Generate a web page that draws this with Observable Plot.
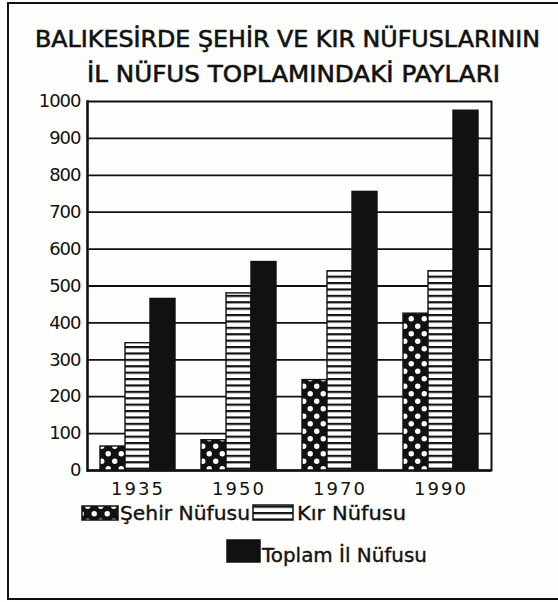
<!DOCTYPE html>
<html><head><meta charset="utf-8">
<script src="https://cdn.jsdelivr.net/npm/d3@7"></script>
<script src="https://cdn.jsdelivr.net/npm/@observablehq/plot@0.6"></script>
<style>
html,body{margin:0;padding:0;background:#fff;}
#page{position:relative;width:558px;height:602px;overflow:hidden;background:#fefefc;font-family:"DejaVu Sans",sans-serif;}
#border{position:absolute;left:7px;top:2px;width:600px;height:598px;border-left:2.5px solid #111;border-top:2.5px solid #111;border-bottom:2.5px solid #111;box-sizing:border-box;}
#chart{position:absolute;left:0;top:90px;}
#decor{position:absolute;left:0;top:0;}
</style></head><body>
<div id="page"><div id="border"></div><div id="chart"></div><svg id="decor" width="558" height="602"></svg></div>
<script>
// ---- data ----
const titleLines = ["BALIKESİRDE ŞEHİR VE KIR NÜFUSLARININ", "İL NÜFUS TOPLAMINDAKİ PAYLARI"];
const years = ["1935", "1950", "1970", "1990"];
const series = ["Şehir Nüfusu", "Kır Nüfusu", "Toplam İl Nüfusu"];
const sehir = [65, 82, 245, 425];
const kir = [345, 480, 540, 540];
const toplam = [465, 565, 755, 975];
const yTicks = [0, 100, 200, 300, 400, 500, 600, 700, 800, 900, 1000];

const values = [sehir, kir, toplam];
const data = years.flatMap((year, i) => series.map((s, j) => ({year, series: s, value: values[j][i]})));
const fillOf = {"Şehir Nüfusu": "url(#dots)", "Kır Nüfusu": "url(#stripes)", "Toplam İl Nüfusu": "#111"};

// ---- patterns ----
const decor = d3.select("#decor");
const defs = decor.append("defs");
const dots = defs.append("pattern").attr("id", "dots").attr("patternUnits", "userSpaceOnUse")
  .attr("width", 13).attr("height", 15);
dots.append("rect").attr("width", 13).attr("height", 15).attr("fill", "#111");
dots.append("circle").attr("cx", 3.25).attr("cy", 3.75).attr("r", 2.7).attr("fill", "#fff");
dots.append("circle").attr("cx", 9.75).attr("cy", 11.25).attr("r", 2.7).attr("fill", "#fff");
const stripes = defs.append("pattern").attr("id", "stripes").attr("patternUnits", "userSpaceOnUse")
  .attr("width", 8).attr("height", 6.4);
stripes.append("rect").attr("width", 8).attr("height", 6.4).attr("fill", "#fff");
stripes.append("rect").attr("width", 8).attr("height", 2.2).attr("fill", "#111");

// ---- chart ----
const chart = Plot.plot({
  width: 558, height: 415,
  marginLeft: 86, marginRight: 66, marginTop: 11, marginBottom: 35,
  style: {fontFamily: "DejaVu Sans", color: "#111", background: "transparent", overflow: "visible"},
  fx: {domain: years, padding: 0, label: null},
  x: {domain: series, axis: null, paddingInner: 0, paddingOuter: 0.45},
  y: {domain: [0, 1000], label: null},
  marks: [
    Plot.ruleY(yTicks, {stroke: "#111", strokeWidth: 1.8}),
    Plot.ruleY([0], {stroke: "#111", strokeWidth: 2.6}),
    Plot.barY(data, {fx: "year", x: "series", y: "value", fill: d => fillOf[d.series], stroke: "#111", strokeWidth: 1.4}),
    Plot.frame({anchor: "left", facetAnchor: "left", stroke: "#111", strokeWidth: 2.6}),
    Plot.frame({anchor: "right", facetAnchor: "right", stroke: "#111", strokeWidth: 2}),
    Plot.axisY(yTicks, {tickSize: 0, tickPadding: 7, fontSize: 18, tickFormat: d => String(d), fill: "#111", stroke: "#111", strokeWidth: 0.4}),
    Plot.axisFx({anchor: "bottom", tickSize: 0, tickPadding: 12, fontSize: 18, label: null, fill: "#111", stroke: "#111", strokeWidth: 0.35})
  ]
});
document.getElementById("chart").append(chart);
d3.select(chart).selectAll('g[aria-label="y-axis tick label"] text').attr("letter-spacing", -1);
d3.select(chart).selectAll('g[aria-label="fx-axis tick label"] text').attr("letter-spacing", 2);

// ---- title ----
const titleLayout = [{x: 35, w: 505, y: 47}, {x: 87, w: 413, y: 82}];
titleLines.forEach((t, i) => {
  decor.append("text").attr("x", titleLayout[i].x).attr("y", titleLayout[i].y)
    .attr("textLength", titleLayout[i].w).attr("lengthAdjust", "spacingAndGlyphs")
    .attr("font-size", 23).attr("fill", "#111").attr("stroke", "#111").attr("stroke-width", 0.6)
    .text(t);
});

// ---- legend ----
const legendLayout = [
  {sx: 82, sy: 506, sw: 36, sh: 14, tx: 120, tw: 130, ty: 520},
  {sx: 253, sy: 505, sw: 40, sh: 15, tx: 297, tw: 109, ty: 520},
  {sx: 227, sy: 540, sw: 33, sh: 22, tx: 262, tw: 165, ty: 562}
];
series.forEach((s, i) => {
  const L = legendLayout[i];
  decor.append("rect").attr("x", L.sx).attr("y", L.sy).attr("width", L.sw).attr("height", L.sh)
    .attr("fill", fillOf[s]).attr("stroke", "#111").attr("stroke-width", 1.5);
  decor.append("text").attr("x", L.tx).attr("y", L.ty).attr("textLength", L.tw).attr("lengthAdjust", "spacingAndGlyphs")
    .attr("font-size", 19).attr("fill", "#111").attr("stroke", "#111").attr("stroke-width", 0.35).text(s);
});
</script>
</body></html>
